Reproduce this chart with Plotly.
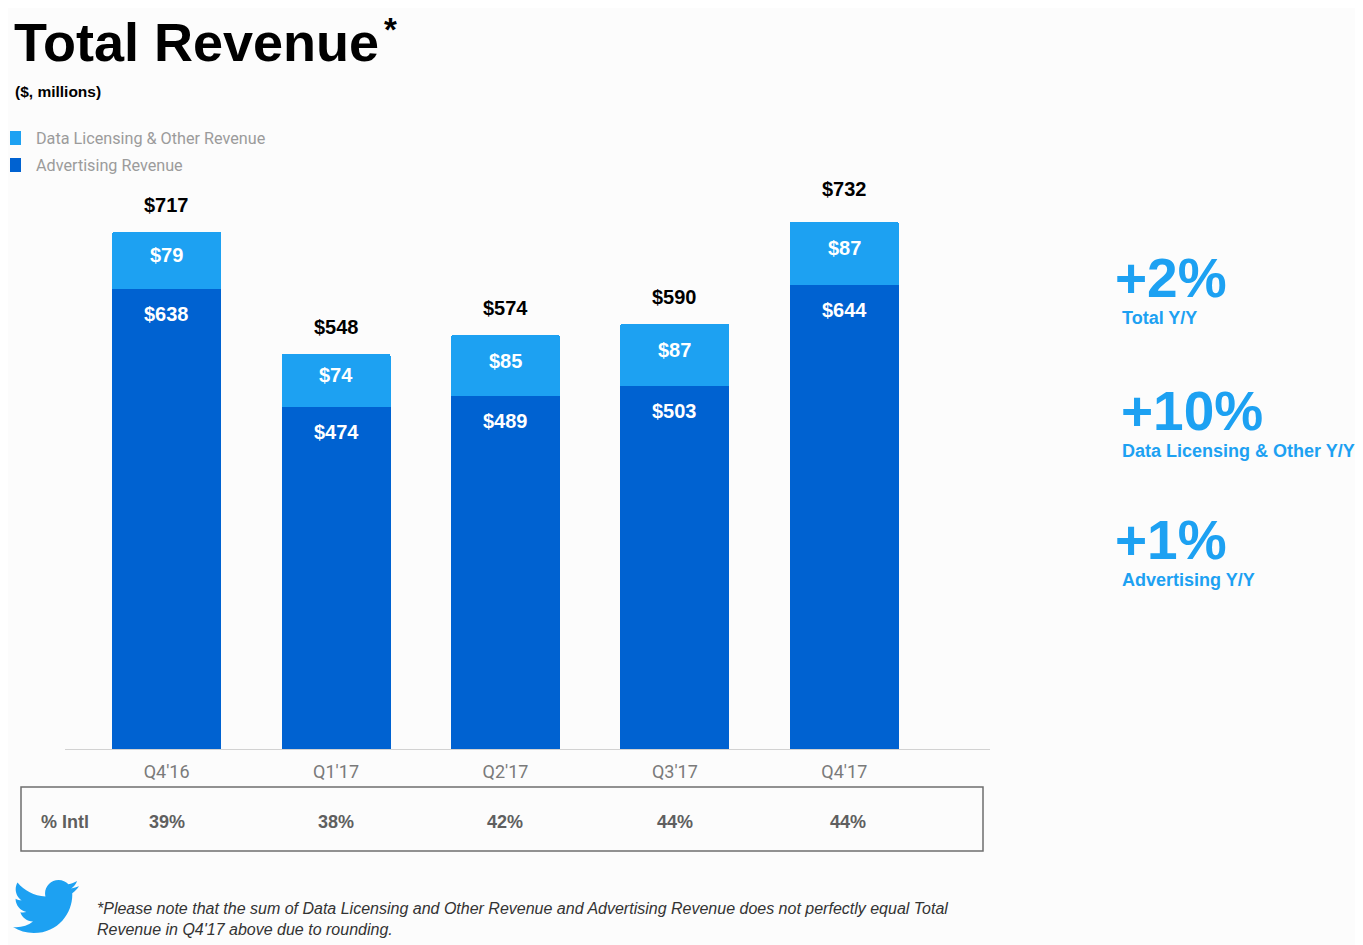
import base64
import plotly.graph_objects as go

# page has an 8px body margin: shrink the figure and map reference pixels accordingly
OX, OY = 8, 8
W, H = 1355, 937

# ---- data ----
categories = ["Q4'16", "Q1'17", "Q2'17", "Q3'17", "Q4'17"]
advertising = [638, 474, 489, 503, 644]
data_licensing = [79, 74, 85, 87, 87]
total = [717, 548, 574, 590, 732]
intl_pct = ["39%", "38%", "42%", "44%", "44%"]
growth_values = ["+2%", "+10%", "+1%"]
growth_labels = ["Total Y/Y", "Data Licensing & Other Y/Y", "Advertising Y/Y"]
series_names = ["Data Licensing & Other Revenue", "Advertising Revenue"]

LIGHT = "#1DA1F2"
DARK = "#0062D1"
BG = "#FCFCFC"
ARIAL = "Liberation Sans, Arial, sans-serif"
ROBOTO = "Roboto, sans-serif"


def px(x):
    return (x - OX) / W


def py(y):
    return 1 - (y - OY) / H


fig = go.Figure()
fig.add_trace(go.Bar(
    x=categories, y=advertising, name=series_names[1],
    marker=dict(color=DARK, line=dict(width=0)), width=0.643,
    hoverinfo="x+y",
))
fig.add_trace(go.Bar(
    x=categories, y=data_licensing, name=series_names[0],
    marker=dict(color=LIGHT, line=dict(width=0)), width=0.643,
    hoverinfo="x+y",
))

annotations = []
# data licensing labels, centred in light segment (slightly raised)
for c, a, d in zip(categories, advertising, data_licensing):
    annotations.append(dict(x=c, y=a + d / 2, xref="x", yref="y", text=f"${d}",
                            showarrow=False, yanchor="middle", yshift=5,
                            font=dict(family=ARIAL, size=20, color="white", weight="bold")))
# advertising labels near top of dark segment
for c, v in zip(categories, advertising):
    annotations.append(dict(x=c, y=v, xref="x", yref="y", text=f"${v}",
                            showarrow=False, yanchor="top", yshift=-12,
                            font=dict(family=ARIAL, size=20, color="white", weight="bold")))
# total labels above bars
for i, (c, v) in enumerate(zip(categories, total)):
    annotations.append(dict(x=c, y=v, xref="x", yref="y", text=f"${v}",
                            showarrow=False, yanchor="bottom",
                            yshift=19 if i == len(total) - 1 else 14,
                            font=dict(family=ARIAL, size=20, color="black", weight="bold")))

# title
annotations.append(dict(x=px(12), y=py(42), xref="paper", yref="paper", text="Total Revenue",
                        showarrow=False, xanchor="left", yanchor="middle",
                        font=dict(family=ARIAL, size=54, color="black", weight="bold")))
annotations.append(dict(x=px(382), y=py(9), xref="paper", yref="paper", text="*",
                        showarrow=False, xanchor="left", yanchor="top",
                        font=dict(family=ARIAL, size=33, color="black", weight="bold")))
annotations.append(dict(x=px(13), y=py(91), xref="paper", yref="paper", text="($, millions)",
                        showarrow=False, xanchor="left", yanchor="middle",
                        font=dict(family=ARIAL, size=15.5, color="black", weight="bold")))

# legend (manual)
shapes = []
for i, (name, col) in enumerate(zip(series_names, [LIGHT, DARK])):
    yc = 138 + 27 * i
    shapes.append(dict(type="rect", xref="paper", yref="paper",
                       x0=px(10), x1=px(21), y0=py(yc - 7), y1=py(yc + 7),
                       fillcolor=col, line=dict(width=0)))
    annotations.append(dict(x=px(34), y=py(yc), xref="paper", yref="paper", text=name,
                            showarrow=False, xanchor="left", yanchor="middle",
                            font=dict(family=ROBOTO, size=16.2, color="#9B9B9B")))

# right-side growth callouts
big_y = [278, 411, 540]
big_x = [1113, 1119, 1113]
for val, lab, yb, xb in zip(growth_values, growth_labels, big_y, big_x):
    annotations.append(dict(x=px(xb), y=py(yb), xref="paper", yref="paper", text=val,
                            showarrow=False, xanchor="left", yanchor="middle",
                            font=dict(family=ARIAL, size=55, color=LIGHT, weight="bold")))
    annotations.append(dict(x=px(1120), y=py(yb + 40), xref="paper", yref="paper", text=lab,
                            showarrow=False, xanchor="left", yanchor="middle",
                            font=dict(family=ARIAL, size=18, color=LIGHT, weight="bold")))

# % Intl table
shapes.append(dict(type="rect", xref="paper", yref="paper",
                   x0=px(21), x1=px(983), y0=py(787), y1=py(851),
                   line=dict(color="#6E6E6E", width=1.5), fillcolor="rgba(0,0,0,0)"))
annotations.append(dict(x=px(39), y=py(822), xref="paper", yref="paper", text="% Intl",
                        showarrow=False, xanchor="left", yanchor="middle",
                        font=dict(family=ARIAL, size=18, color="#5F5F5F", weight="bold")))
for i, (c, p) in enumerate(zip(categories, intl_pct)):
    annotations.append(dict(x=c, y=py(822), xref="x", yref="paper", text=p,
                            showarrow=False, xanchor="center", yanchor="middle",
                            xshift=4 if i == len(categories) - 1 else 0,
                            font=dict(family=ARIAL, size=18, color="#5F5F5F", weight="bold")))

# footnote
annotations.append(dict(x=px(95), y=py(919), xref="paper", yref="paper",
                        text="<i>*Please note that the sum of Data Licensing and Other Revenue and Advertising Revenue does not perfectly equal Total<br>Revenue in Q4'17 above due to rounding.</i>",
                        showarrow=False, xanchor="left", yanchor="middle", align="left",
                        font=dict(family=ARIAL, size=16, color="#333333")))

# twitter bird
bird = ('<svg xmlns="http://www.w3.org/2000/svg" viewBox="0 1.9 24 20.2">'
        '<path fill="#1DA1F2" d="M23.954 4.569c-.885.389-1.83.654-2.825.775 1.014-.611 1.794-1.574 2.163-2.723-.951.555-2.005.959-3.127 1.184-.896-.959-2.173-1.559-3.591-1.559-2.717 0-4.92 2.203-4.92 4.917 0 .39.045.765.127 1.124C7.691 8.094 4.066 6.13 1.64 3.161c-.427.722-.666 1.561-.666 2.475 0 1.71.87 3.213 2.188 4.096-.807-.026-1.566-.248-2.228-.616v.061c0 2.385 1.693 4.374 3.946 4.827-.413.111-.849.171-1.296.171-.314 0-.615-.03-.916-.086.631 1.953 2.445 3.377 4.604 3.417-1.68 1.319-3.809 2.105-6.102 2.105-.39 0-.779-.023-1.17-.067 2.189 1.394 4.768 2.209 7.557 2.209 9.054 0 13.999-7.496 13.999-13.986 0-.209 0-.42-.015-.63.961-.689 1.8-1.56 2.46-2.548l-.047-.02z"/>'
        '</svg>')
bird_uri = "data:image/svg+xml;base64," + base64.b64encode(bird.encode()).decode()

fig.update_layout(
    width=W, height=H,
    paper_bgcolor=BG, plot_bgcolor=BG,
    margin=dict(l=0, r=0, t=0, b=0),
    barmode="stack",
    barcornerradius=2,
    showlegend=False,
    xaxis=dict(domain=[px(65), px(990)], range=[-0.6, 4.86], showgrid=False,
               showline=True, linecolor="#D2D2D2", linewidth=1, zeroline=False,
               ticks="", ticklabelstandoff=6,
               tickfont=dict(family=ROBOTO, size=18, color="#7A7A7A"), fixedrange=True),
    yaxis=dict(domain=[py(749), py(180)], range=[0, 789], visible=False, fixedrange=True),
    annotations=annotations,
    shapes=shapes,
    images=[dict(source=bird_uri, xref="paper", yref="paper",
                 x=px(13), y=py(879), sizex=66 / W, sizey=55 / H,
                 xanchor="left", yanchor="top", sizing="stretch", layer="above")],
)

fig.write_html("out.html")
